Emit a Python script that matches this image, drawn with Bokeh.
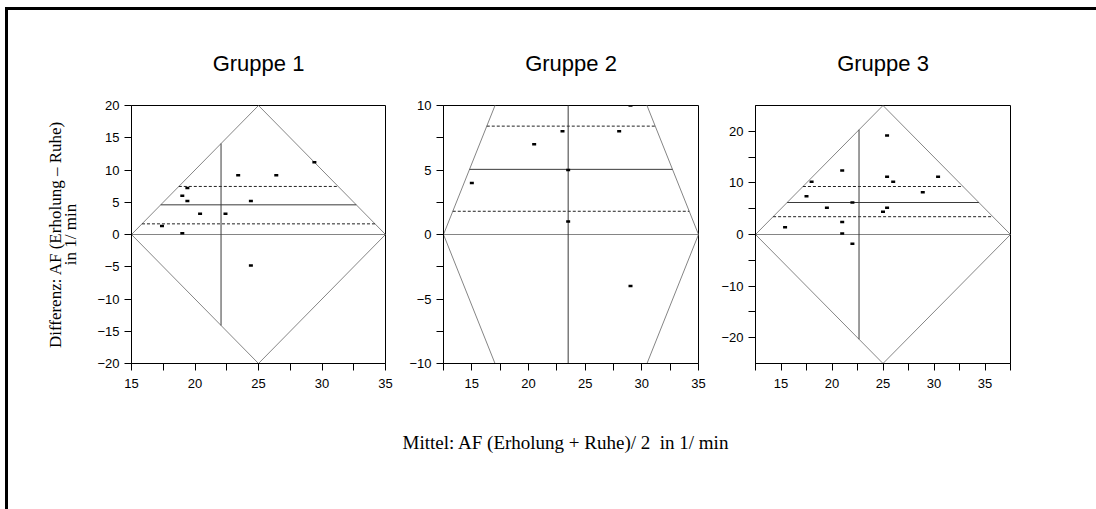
from bokeh.plotting import figure
from bokeh.models import Range1d, FixedTicker, Div, Spacer
from bokeh.layouts import row, column
from bokeh.embed import file_html
from bokeh.resources import INLINE

# ---- data: mean of the two measurements (x) and their difference (y) ----
groups = ["Gruppe 1", "Gruppe 2", "Gruppe 3"]

g1_mean = [17.4, 19.0, 19.0, 19.4, 19.4, 20.4, 22.4, 23.4, 24.4, 24.4, 26.4, 29.4]
g1_diff = [1.3, 0.2, 6.0, 7.2, 5.2, 3.2, 3.2, 9.2, 5.2, -4.8, 9.2, 11.2]

g2_mean = [15.0, 20.5, 23.0, 23.5, 23.5, 28.0, 29.0, 29.0]
g2_diff = [4.0, 7.0, 8.0, 5.0, 1.0, 8.0, 10.0, -4.0]

g3_mean = [15.4, 17.5, 18.0, 19.5, 21.0, 21.0, 21.0, 22.0, 22.0, 25.0, 25.4, 25.4, 25.4, 26.0, 28.9, 30.4]
g3_diff = [1.4, 7.4, 10.2, 5.2, 12.4, 2.4, 0.2, 6.2, -1.8, 4.4, 19.2, 11.2, 5.2, 10.2, 8.2, 11.2]

# mean difference with its confidence band, and the mean of the averages
mean_diff = [4.6, 5.05, 6.2]
ci_low = [1.65, 1.8, 3.45]
ci_high = [7.45, 8.4, 9.3]
mean_avg = [22.05, 23.5, 22.65]

# admissible region: left/right corner on the zero line, apex height
region_lo = [15.0, 12.5, 12.5]
region_hi = [35.0, 35.0, 37.5]
region_apex = [20.0, 24.75, 25.0]

# axis ranges and ticks
x_ranges = [(15, 35), (12.5, 35), (12.5, 37.5)]
y_ranges = [(-20, 20), (-10, 10), (-25, 25)]
x_major = [15, 20, 25, 30, 35]
x_minor = [[17.5, 22.5, 27.5, 32.5],
           [12.5, 17.5, 22.5, 27.5, 32.5],
           [12.5, 17.5, 22.5, 27.5, 32.5, 37.5]]
y_major = [[-20, -15, -10, -5, 0, 5, 10, 15, 20],
           [-10, -5, 0, 5, 10],
           [-20, -10, 0, 10, 20]]
y_minor = [[], [-7.5, -2.5, 2.5, 7.5], [-15, -5, 5, 15]]

y_title = "Differenz: AF (Erholung \u2013 Ruhe)\nin 1/ min"
x_title = "Mittel: AF (Erholung + Ruhe)/ 2  in 1/ min"

series = [(g1_mean, g1_diff), (g2_mean, g2_diff), (g3_mean, g3_diff)]

# canvas geometry of each panel: (width, left border, right border)
geometry = [(392, 123, 15), (312, 43, 14), (384, 43, 86)]
FRAME_TOP = 95
FRAME_H = 258
FIG_H = 395

REGION_COLOR = "#858585"
LINE_COLOR = "#3a3a3a"


def x_extent(y, lo, hi, apex):
    c = (lo + hi) / 2.0
    d = abs(y) / apex * (c - lo)
    return lo + d, hi - d


def half_height(x, lo, hi, apex):
    c = (lo + hi) / 2.0
    return apex * (1 - abs(x - c) / (c - lo))


figs = []
for i, name in enumerate(groups):
    w, bl, br = geometry[i]
    p = figure(width=w, height=FIG_H, output_backend="svg", toolbar_location=None,
               x_range=Range1d(*x_ranges[i]), y_range=Range1d(*y_ranges[i]),
               min_border_left=bl, min_border_right=br,
               min_border_top=FRAME_TOP, min_border_bottom=FIG_H - FRAME_TOP - FRAME_H)
    p.background_fill_color = "white"
    p.border_fill_color = "white"
    p.outline_line_color = "black"
    p.outline_line_width = 1
    p.grid.visible = False

    p.title.text = name
    p.title.align = "center"
    p.title.text_font = "Liberation Sans"
    p.title.text_font_size = "22px"
    p.title.text_font_style = "normal"
    p.title.text_color = "black"
    p.title.standoff = 59

    p.xaxis.ticker = FixedTicker(ticks=x_major, minor_ticks=x_minor[i])
    p.yaxis.ticker = FixedTicker(ticks=y_major[i], minor_ticks=y_minor[i])
    for ax in (p.xaxis[0], p.yaxis[0]):
        ax.axis_line_color = "black"
        ax.axis_line_width = 1
        ax.major_tick_in = 0
        ax.major_tick_out = 7
        ax.minor_tick_in = 0
        ax.minor_tick_out = 7
        ax.major_tick_line_color = "black"
        ax.minor_tick_line_color = "black"
        ax.major_label_text_font = "Liberation Sans"
        ax.major_label_text_font_size = "13px"
        ax.major_label_text_color = "black"
        ax.axis_label_text_font = "Liberation Serif"
        ax.axis_label_text_font_style = "normal"
        ax.axis_label_text_color = "black"
    p.xaxis.major_label_standoff = 8
    p.yaxis.major_label_standoff = 5

    lo, hi, apex = region_lo[i], region_hi[i], region_apex[i]
    c = (lo + hi) / 2.0

    # admissible region and zero line
    p.line([lo, c, hi, c, lo], [0, apex, 0, -apex, 0], line_color=REGION_COLOR, line_width=1)
    p.line([lo, hi], [0, 0], line_color=REGION_COLOR, line_width=1)

    # mean difference and confidence band, clipped to the region
    x0, x1 = x_extent(mean_diff[i], lo, hi, apex)
    p.line([x0, x1], [mean_diff[i], mean_diff[i]], line_color=LINE_COLOR, line_width=1)
    for yv in (ci_low[i], ci_high[i]):
        x0, x1 = x_extent(yv, lo, hi, apex)
        p.line([x0, x1], [yv, yv], line_color="#222222", line_width=1, line_dash="3 2")

    # mean of the averages
    hh = half_height(mean_avg[i], lo, hi, apex)
    p.line([mean_avg[i], mean_avg[i]], [-hh, hh], line_color=LINE_COLOR, line_width=1)

    xs, ys = series[i]
    p.rect(x=xs, y=ys, width=4, height=2.5, width_units="screen", height_units="screen",
           fill_color="black", line_color=None)
    figs.append(p)

# two-line vertical axis title on the first panel
figs[0].yaxis.axis_label = y_title
figs[0].yaxis.axis_label_text_font_size = "17px"
figs[0].yaxis.axis_label_text_line_height = 0.8
figs[0].yaxis.axis_label_standoff = 14

# horizontal axis title below the row of panels
x_label = Div(text=f'<div style="padding-top:19px">{x_title}</div>', width=601, height=104,
              styles={"font-family": "Liberation Serif", "font-size": "19px",
                      "text-align": "center", "white-space": "pre", "color": "black"})

page = column(row(*figs), row(Spacer(width=252, height=104), x_label),
              margin=(7, 0, 0, 5),
              styles={"border-top": "3px solid black", "border-left": "3px solid black"})

open("out.html", "w").write(file_html(page, INLINE))
